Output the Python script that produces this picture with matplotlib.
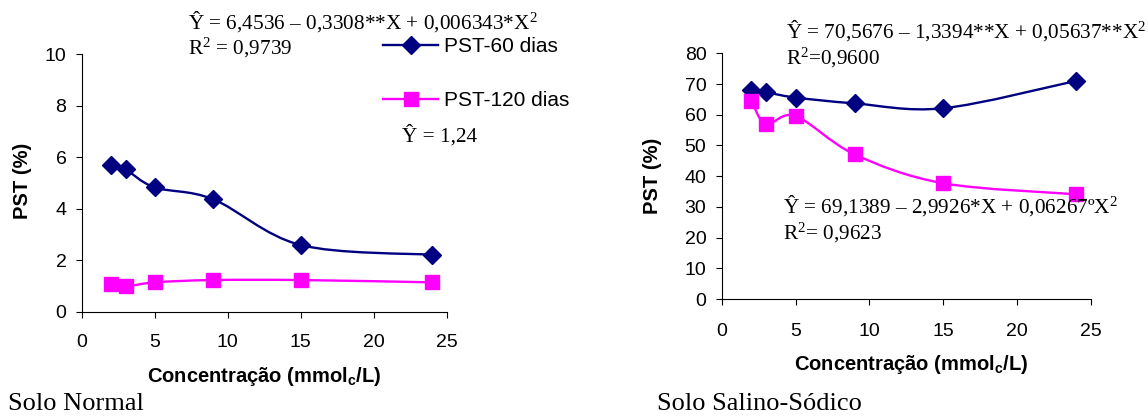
import numpy as np
import matplotlib
matplotlib.use('Agg')
import matplotlib.pyplot as plt
from matplotlib.path import Path
from matplotlib.patches import PathPatch
from matplotlib.lines import Line2D

plt.rcParams['font.family'] = ['Liberation Sans', 'DejaVu Sans']
plt.rcParams['mathtext.fontset'] = 'custom'
plt.rcParams['mathtext.rm'] = 'Liberation Serif'
plt.rcParams['mathtext.bf'] = 'Liberation Sans:bold'
plt.rcParams['mathtext.default'] = 'rm'

# concentrations (mmolc/L)
conc = [2, 3, 5, 9, 15, 24]

# Solo Normal
normal_60 = [5.70, 5.53, 4.83, 4.37, 2.59, 2.21]
normal_120 = [1.06, 0.98, 1.14, 1.23, 1.23, 1.14]

# Solo Salino-Sodico
salino_60 = [67.9, 67.3, 65.6, 63.7, 62.1, 71.0]
salino_120 = [64.6, 57.0, 59.6, 47.1, 37.7, 34.1]

NAVY = '#000080'
MAGENTA = '#FF00FF'
W, H = 1148, 418


def smooth_path(x, y):
    # excel style smoothed line (bezier through the points)
    pts = np.column_stack([x, y]).astype(float)
    n = len(pts)
    verts = [pts[0]]
    codes = [Path.MOVETO]
    for i in range(n - 1):
        p0 = pts[i - 1] if i > 0 else pts[i]
        p1 = pts[i]
        p2 = pts[i + 1]
        p3 = pts[i + 2] if i + 2 < n else pts[i + 1]
        verts += [p1 + (p2 - p0) / 6, p2 - (p3 - p1) / 6, p2]
        codes += [Path.CURVE4] * 3
    return Path(verts, codes)


def draw_series(ax, x, y, color, marker, ms):
    ax.add_patch(PathPatch(smooth_path(x, y), facecolor='none', edgecolor=color,
                           lw=1.7, zorder=2))
    ax.plot(x, y, linestyle='none', marker=marker, color=color, ms=ms,
            markeredgecolor=color, zorder=3, clip_on=False)


def setup_axes(ax, ymax, ystep, xpad):
    ax.set_xlim(0, 25)
    ax.set_ylim(0, ymax)
    ax.set_xticks(range(0, 26, 5))
    ax.set_yticks(np.arange(0, ymax + ystep / 2, ystep))
    for s in ['top', 'right']:
        ax.spines[s].set_visible(False)
    for s in ['left', 'bottom']:
        ax.spines[s].set_linewidth(0.8)
    ax.tick_params(direction='out', length=4, width=0.8, labelsize=14)
    ax.tick_params(axis='y', pad=7)
    ax.tick_params(axis='x', pad=xpad)


def ftext(x, y, s, **kw):
    fig.text(x / W, 1 - y / H, s, va='center', **kw)


fig = plt.figure(figsize=(W / 100, H / 100), dpi=100)

# left panel
ax1 = fig.add_axes([81.7 / W, 1 - 311.7 / H, 365 / W, 257.4 / H])
setup_axes(ax1, 10, 2, 12)
draw_series(ax1, conc, normal_60, NAVY, 'D', 9.5)
draw_series(ax1, conc, normal_120, MAGENTA, 's', 10.5)

# right panel
ax2 = fig.add_axes([721.7 / W, 1 - 299 / H, 369 / W, 245.7 / H])
setup_axes(ax2, 80, 10, 13)
draw_series(ax2, conc, salino_60, NAVY, 'D', 9.5)
draw_series(ax2, conc, salino_120, MAGENTA, 's', 10.5)

# legend (left panel only)
handles = [Line2D([], [], color=NAVY, lw=1.7, marker='D', ms=9.5),
           Line2D([], [], color=MAGENTA, lw=1.7, marker='s', ms=10.5)]
fig.legend(handles, ['PST-60 dias', 'PST-120 dias'], loc='upper left',
           bbox_to_anchor=(383 / W, 1 - 37 / H), frameon=False, fontsize=15,
           handlelength=2.65, handletextpad=0.3, labelspacing=1.7,
           borderpad=0, borderaxespad=0)

# axis labels
xl = r'Concentração (mmol$_\mathbf{c}$/L)'
ftext(264, 376, xl, ha='center', fontsize=14.5, fontweight='bold')
ftext(911, 364, xl, ha='center', fontsize=14.5, fontweight='bold')
ftext(22, 181, 'PST (%)', ha='center', fontsize=14.5, fontweight='bold', rotation=90)
ftext(653, 176, 'PST (%)', ha='center', fontsize=14.5, fontweight='bold', rotation=90)

# regression equations
serif = dict(family='Liberation Serif', fontsize=15.3)
ftext(188, 22, 'Ŷ = 6,4536 – 0,3308**X + 0,006343*X$^2$', **serif)
ftext(188, 48, 'R$^2$ = 0,9739', **serif)
ftext(402, 136, 'Ŷ = 1,24', **serif)
ftext(786, 31, 'Ŷ = 70,5676 – 1,3394**X + 0,05637**X$^2$', **serif)
ftext(786, 58, 'R$^2$=0,9600', **serif)
ftext(783, 206, 'Ŷ = 69,1389 – 2,9926*X + 0,06267ºX$^2$', **serif)
ftext(783, 233, 'R$^2$= 0,9623', **serif)

# panel names
ftext(8, 404, 'Solo Normal', family='Liberation Serif', fontsize=19)
ftext(657, 404, 'Solo Salino-Sódico', family='Liberation Serif', fontsize=19)

fig.savefig('out.png', dpi=100)
